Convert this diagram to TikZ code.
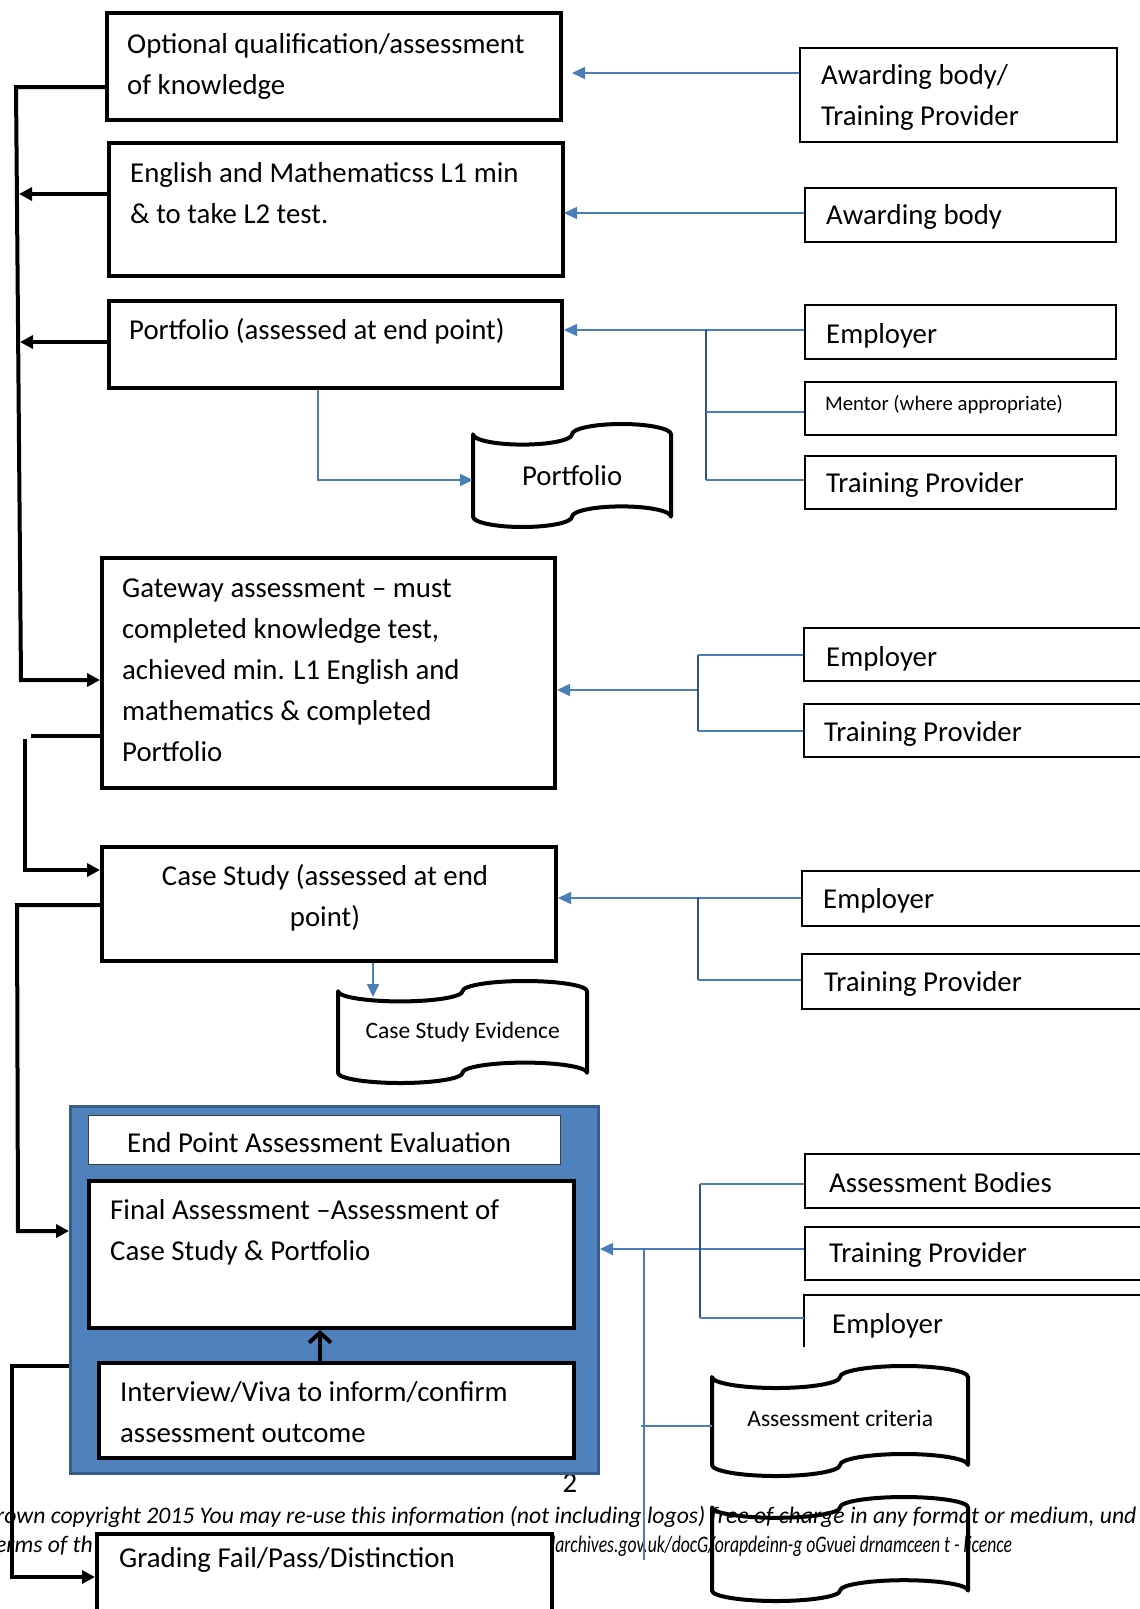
\documentclass[tikz,border=0pt]{standalone}
\usepackage{fontspec}
\setmainfont{Carlito}
\usetikzlibrary{arrows.meta, positioning, calc}

\definecolor{wordblue}{HTML}{4A7EBB}
\definecolor{darkblue}{HTML}{2F528F}
\definecolor{fillblue}{HTML}{4F81BD}
\definecolor{edgeblue}{HTML}{385D8A}

\newcommand{\mainfs}{\fontsize{28.8}{41}\selectfont}
\newcommand{\docfs}{\fontsize{23.5}{30}\selectfont}
\newcommand{\mentorfs}{\fontsize{20.7}{26}\selectfont}
\newcommand{\footfs}{\fontsize{23.7}{29}\selectfont\itshape}

\tikzset{
  heavybox/.style={draw, line width=4pt, fill=white, anchor=north west, inner sep=0},
  lightbox/.style={draw, line width=1.5pt, anchor=north west, inner sep=0},
  txt/.style={anchor=west, align=left, inner sep=0, font=\mainfs},
  blk/.style={line width=4pt},
  blkarrow/.style={line width=4pt, -{Triangle[length=13pt,width=13pt]}},
  bline/.style={wordblue, line width=1.6pt},
  barrow/.style={wordblue, line width=1.6pt, -{Triangle[length=13pt,width=12pt]}},
  bbranch/.style={darkblue, line width=2.2pt},
  tapeline/.style={line width=4pt, line join=round},
}

% punched tape document: name, x1, y1, x2, y2, text
\newcommand{\tapedoc}[6]{%
  \pgfmathsetmacro\ta{(#5-#3)/10}%
  \pgfmathsetmacro\tq{(#4-#2)/4}%
  \pgfmathsetmacro\tw{#4-#2}%
  \pgfmathsetmacro\th{#5-#3}%
  \draw[tapeline] (#2,#3+\ta)
    .. controls (#2,#3+1.55*\ta) and (#2+0.45*\tq,#3+2*\ta) .. (#2+\tq,#3+2*\ta)
    .. controls (#2+1.55*\tq,#3+2*\ta) and (#2+2*\tq,#3+1.55*\ta) .. (#2+2*\tq,#3+\ta)
    .. controls (#2+2*\tq,#3+0.45*\ta) and (#2+2.45*\tq,#3) .. (#2+3*\tq,#3)
    .. controls (#2+3.55*\tq,#3) and (#4,#3+0.45*\ta) .. (#4,#3+\ta)
    -- (#4,#5-\ta)
    .. controls (#4,#5-1.55*\ta) and (#2+3.55*\tq,#5-2*\ta) .. (#2+3*\tq,#5-2*\ta)
    .. controls (#2+2.45*\tq,#5-2*\ta) and (#2+2*\tq,#5-1.55*\ta) .. (#2+2*\tq,#5-\ta)
    .. controls (#2+2*\tq,#5-0.45*\ta) and (#2+1.55*\tq,#5) .. (#2+\tq,#5)
    .. controls (#2+0.45*\tq,#5) and (#2,#5-0.45*\ta) .. (#2,#5-\ta)
    -- cycle;
  \node[minimum width=\tw pt, minimum height=\th pt, inner sep=0, anchor=north west] (#1) at (#2,#3) {};
  \node at (#1) {#6};
}

\begin{document}
\begin{tikzpicture}[x=1pt, y=-1pt]
  \useasboundingbox (0,0) rectangle (1140,1609);
  \fill[white] (0,0) rectangle (1140,1609);

  % footer of the page behind the chart
  \node[anchor=west, inner sep=0, font=\footfs] (foot1) at (-4,1517) {rown copyright 2015 You may re-use this information (not including logos) free of charge in any format or medium, und};
  \node[anchor=east, inner sep=0, font=\footfs] (foot2) at (93,1546) {erms of th};
  \node[anchor=west, inner sep=0, font=\footfs] (foot3) at (542,1546) {\scalebox{0.745}[1]{alarchives.gov.uk/docG/orapdeinn-g oGvuei drnamceen t - licence}};
  \node[inner sep=0, font=\mainfs] (pagenum) at (570,1483) {2};

  % left column
  \node[heavybox, minimum width=454pt, minimum height=107pt] (optq) at (105,11) {};
  \node[txt] at (127,66) {Optional qualification/assessment\\of knowledge};
  \node[heavybox, minimum width=454pt, minimum height=133pt] (eng) at (107,141) {};
  \node[txt] at (130,193) {English and Mathematicss L1 min\\\& to take L2 test.};
  \node[heavybox, minimum width=453pt, minimum height=87pt] (port) at (107,299) {};
  \node[txt] at (129,331) {Portfolio (assessed at end point)};
  \tapedoc{portdoc}{473}{424}{671}{527}{\mainfs Portfolio}
  \node[heavybox, minimum width=453pt, minimum height=230pt] (gate) at (100,556) {};
  \node[txt] at (122,670) {Gateway assessment -- must\\completed knowledge test,\\achieved min. L1 English and\\mathematics \& completed\\Portfolio};
  \node[heavybox, minimum width=454pt, minimum height=114pt] (case) at (100,845) {};
  \node[txt, anchor=center, align=center] at (325,898) {Case Study (assessed at end\\point)};
  \tapedoc{casedoc}{338}{981}{587}{1083}{\docfs Case Study Evidence}

  % end point assessment
  \node[draw=edgeblue, fill=fillblue, line width=3pt, anchor=north west, inner sep=0,
        minimum width=528pt, minimum height=367pt] (epa) at (69,1105) {};
  \node[draw=black!75, fill=white, line width=1.2pt, anchor=north west, inner sep=0,
        minimum width=472pt, minimum height=49pt] (epatitle) at (88,1115) {};
  \node[txt] at (127,1143) {End Point Assessment Evaluation};
  \node[heavybox, minimum width=485pt, minimum height=147pt] (final) at (87,1179) {};
  \node[txt] at (110,1232) {Final Assessment --Assessment of\\Case Study \& Portfolio};
  \node[heavybox, minimum width=475pt, minimum height=95pt] (intv) at (97,1361) {};
  \node[txt] at (120,1412) {Interview/Viva to inform/confirm\\assessment outcome};
  \node[heavybox, minimum width=455pt, minimum height=110pt] (grade) at (95,1532) {};
  \node[txt] at (119,1560) {Grading Fail/Pass/Distinction};

  % right column
  \node[lightbox, minimum width=317pt, minimum height=94pt] (awtp) at (799,47) {};
  \node[txt] at (821,97) {Awarding body/\\Training Provider};
  \node[lightbox, minimum width=311pt, minimum height=54pt] (awb) at (804,187) {};
  \node[txt] at (826,217) {Awarding body};
  \node[lightbox, minimum width=311pt, minimum height=54pt] (emp1) at (804,304) {};
  \node[txt] at (826,336) {Employer};
  \node[lightbox, minimum width=311pt, minimum height=53pt] (mentor) at (804,381) {};
  \node[txt, font=\mentorfs] at (825,405) {Mentor (where appropriate)};
  \node[lightbox, minimum width=311pt, minimum height=53pt] (tp1) at (804,455) {};
  \node[txt] at (826,485) {Training Provider};
  \node[lightbox, minimum width=360pt, minimum height=53pt] (emp2) at (803,627) {};
  \node[txt] at (826,659) {Employer};
  \node[lightbox, minimum width=360pt, minimum height=53pt] (tp2) at (803,703) {};
  \node[txt] at (824,734) {Training Provider};
  \node[lightbox, minimum width=360pt, minimum height=55pt] (emp3) at (801,870) {};
  \node[txt] at (823,901) {Employer};
  \node[lightbox, minimum width=360pt, minimum height=55pt] (tp3) at (801,953) {};
  \node[txt] at (824,984) {Training Provider};
  \node[lightbox, minimum width=360pt, minimum height=54pt] (asb) at (804,1153) {};
  \node[txt] at (829,1183) {Assessment Bodies};
  \node[lightbox, minimum width=360pt, minimum height=53pt] (tp4) at (804,1226) {};
  \node[txt] at (829,1255) {Training Provider};
  \node[anchor=north west, inner sep=0, minimum width=360pt, minimum height=52pt] (emp4) at (804,1295) {};
  \draw[line width=1.5pt] (emp4.south west) -- (emp4.north west) -- (emp4.north east);
  \node[txt] at (832,1326) {Employer};
  \tapedoc{critdoc}{712}{1366}{968}{1476}{\raisebox{6pt}{\docfs Assessment criteria}}
  \tapedoc{gradedoc}{712}{1497}{968}{1601}{}

  % black flow on the left
  \coordinate (spinetop) at (16,87);
  \coordinate (spinebot) at (21,680);
  \draw[blkarrow] (optq.west |- 0,87) -- (spinetop) -- (spinebot) -- (gate.west |- 0,680);
  \draw[blkarrow] (eng.west |- 0,194) -- (19,194);
  \draw[blkarrow] (port.west |- 0,342) -- (20,342);
  \draw[blk] (gate.west |- 0,736) -- (31,736);
  \draw[blkarrow] (25,739) -- (25,870) -- (case.west |- 0,870);
  \draw[blkarrow] (case.west |- 0,905) -- (17,905) -- (18,1231) -- (epa.west |- 0,1231);
  \draw[blkarrow] (epa.west |- 0,1366) -- (12,1366) -- (12,1577) -- (grade.west |- 0,1577);
  \draw[line width=4pt, -{Straight Barb[length=10pt,width=22pt]}] (intv.north -| 320,0) -- (final.south -| 320,0);

  % blue flow from the right
  \coordinate (optqin) at (572,73);
  \coordinate (engin) at (564,213);
  \coordinate (busa) at (706,330);
  \coordinate (busb) at (698,690);
  \coordinate (busc) at (698,898);
  \coordinate (busd) at (700,1249);
  \coordinate (epain) at (600,1249);
  \coordinate (casedocin) at (373,997);
  \draw[barrow] (awtp.west |- 0,73) -- (optqin);
  \draw[barrow] (awb.west |- 0,213) -- (engin);
  \draw[barrow] (emp1.west |- 0,330) -- (port.east |- 0,330);
  \draw[bbranch] (busa) -- (706,480);
  \draw[bline] (706,412) -- (mentor.west |- 0,412);
  \draw[bline] (706,480) -- (tp1.west |- 0,480);
  \draw[barrow] (port.south -| 318,0) -- (318,480) -- (portdoc.west |- 0,480);
  \draw[barrow] (busb) -- (gate.east |- 0,690);
  \draw[bbranch] (698,655) -- (698,731);
  \draw[bline] (698,655) -- (emp2.west |- 0,655);
  \draw[bline] (698,731) -- (tp2.west |- 0,731);
  \draw[barrow] (emp3.west |- 0,898) -- (case.east |- 0,898);
  \draw[bbranch] (busc) -- (698,980);
  \draw[bline] (698,980) -- (tp3.west |- 0,980);
  \draw[barrow] (case.south -| 373,0) -- (casedocin);
  \draw[barrow] (tp4.west |- 0,1249) -- (epain);
  \draw[bbranch] (700,1184) -- (700,1318);
  \draw[bline] (700,1184) -- (asb.west |- 0,1184);
  \draw[bline] (700,1318) -- (emp4.west |- 0,1318);
  \draw[bline] (644,1249) -- (644,1560);
  \draw[bline] (641,1426) -- (critdoc.west |- 0,1426);
\end{tikzpicture}
\end{document}
